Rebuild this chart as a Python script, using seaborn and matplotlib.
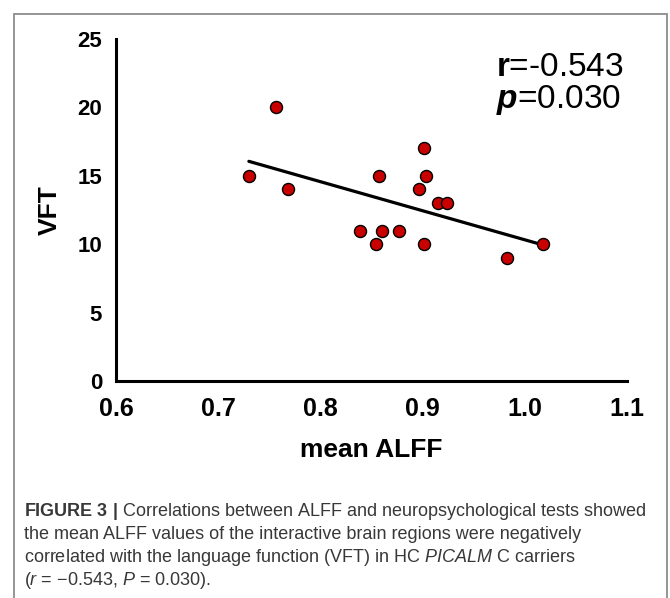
import matplotlib
matplotlib.use("Agg")
import matplotlib.pyplot as plt
import matplotlib.patches as mpatches
import seaborn as sns
import pandas as pd

# ---- data ----
mean_alff = [0.730, 0.757, 0.768, 0.839, 0.854, 0.860, 0.857, 0.877,
             0.896, 0.901, 0.903, 0.901, 0.915, 0.924, 0.983, 1.018]
vft = [15, 20, 14, 11, 10, 11, 15, 11, 14, 17, 15, 10, 13, 13, 9, 10]
x_ticks = [0.6, 0.7, 0.8, 0.9, 1.0, 1.1]
x_tick_labels = ["0.6", "0.7", "0.8", "0.9", "1.0", "1.1"]
y_ticks = [0, 5, 10, 15, 20, 25]
r_text = "-0.543"
p_text = "0.030"

df = pd.DataFrame({"mean ALFF": mean_alff, "VFT": vft})

sns.set_style("white")
plt.rcParams["font.family"] = ["Liberation Sans", "DejaVu Sans"]
plt.rcParams["mathtext.fontset"] = "custom"
plt.rcParams["mathtext.rm"] = "Liberation Sans"
plt.rcParams["mathtext.it"] = "Liberation Sans:italic"
plt.rcParams["mathtext.bf"] = "Liberation Sans:bold"
plt.rcParams["mathtext.bfit"] = "Liberation Sans:italic:bold"
plt.rcParams["text.color"] = "black"
plt.rcParams["axes.labelcolor"] = "black"
plt.rcParams["xtick.color"] = "black"
plt.rcParams["ytick.color"] = "black"

W, H = 670, 598
fig = plt.figure(figsize=(W / 100, H / 100), dpi=100)
fig.patch.set_facecolor("white")

ax = fig.add_axes([116 / W, 1 - 381 / H, 511 / W, 342 / H])

sns.regplot(data=df, x="mean ALFF", y="VFT", ax=ax, ci=None, truncate=True,
            scatter_kws=dict(s=75, color="#c80000", edgecolor="black",
                             linewidths=1.0, alpha=1, zorder=3),
            line_kws=dict(color="black", lw=2.3, zorder=2))

ax.set_xlim(0.6, 1.1)
ax.set_ylim(0, 25)
ax.set_xticks(x_ticks)
ax.set_xticklabels(x_tick_labels)
ax.set_yticks(y_ticks)

for s in ["top", "right"]:
    ax.spines[s].set_visible(False)
for s in ["left", "bottom"]:
    ax.spines[s].set_linewidth(2.2)
    ax.spines[s].set_color("black")

ax.tick_params(axis="both", direction="out", length=6.5, width=2.2,
               color="black")
ax.tick_params(axis="x", labelsize=18, pad=5)
ax.tick_params(axis="y", labelsize=16, pad=3.5)
for lab in ax.get_xticklabels() + ax.get_yticklabels():
    lab.set_fontweight("bold")

ax.set_xlabel("mean ALFF", fontsize=19, fontweight="bold")
ax.set_ylabel("VFT", fontsize=19, fontweight="bold")
ax.yaxis.set_label_coords((62 - 116) / 511, 0.5)
ax.xaxis.set_label_coords(0.5, -(438 - 381) / 342)

# correlation annotation
fig.text(496 / W, 1 - 76 / H, r"$\mathbf{r}$=" + r_text, fontsize=24,
         ha="left", va="baseline", color="black")
fig.text(496 / W, 1 - 108 / H, r"$\mathbfit{p}$=" + p_text, fontsize=24,
         ha="left", va="baseline", color="black")

# outer frame
frame = mpatches.Rectangle((14 / W, -0.05), (667 - 14) / W, 0.05 + 1 - 14 / H,
                           transform=fig.transFigure, fill=False,
                           edgecolor="#8c8c8c", lw=1.3, clip_on=False)
fig.patches.append(frame)

# caption
cap_color = "#383838"
cap_lines = [
    r"$\mathbf{FIGURE\ 3\ |}$ Correlations between ALFF and neuropsychological tests showed",
    "the mean ALFF values of the interactive brain regions were negatively",
    r"correlated with the language function (VFT) in HC $\mathit{PICALM}$ C carriers",
    r"($\mathit{r}$ = −0.543, $\mathit{P}$ = 0.030).",
]
baselines = [516, 539, 562, 585]
for txt, yb in zip(cap_lines, baselines):
    fig.text(24 / W, 1 - yb / H, txt, fontsize=13, color=cap_color,
             ha="left", va="baseline")

fig.savefig("out.png", dpi=100)
